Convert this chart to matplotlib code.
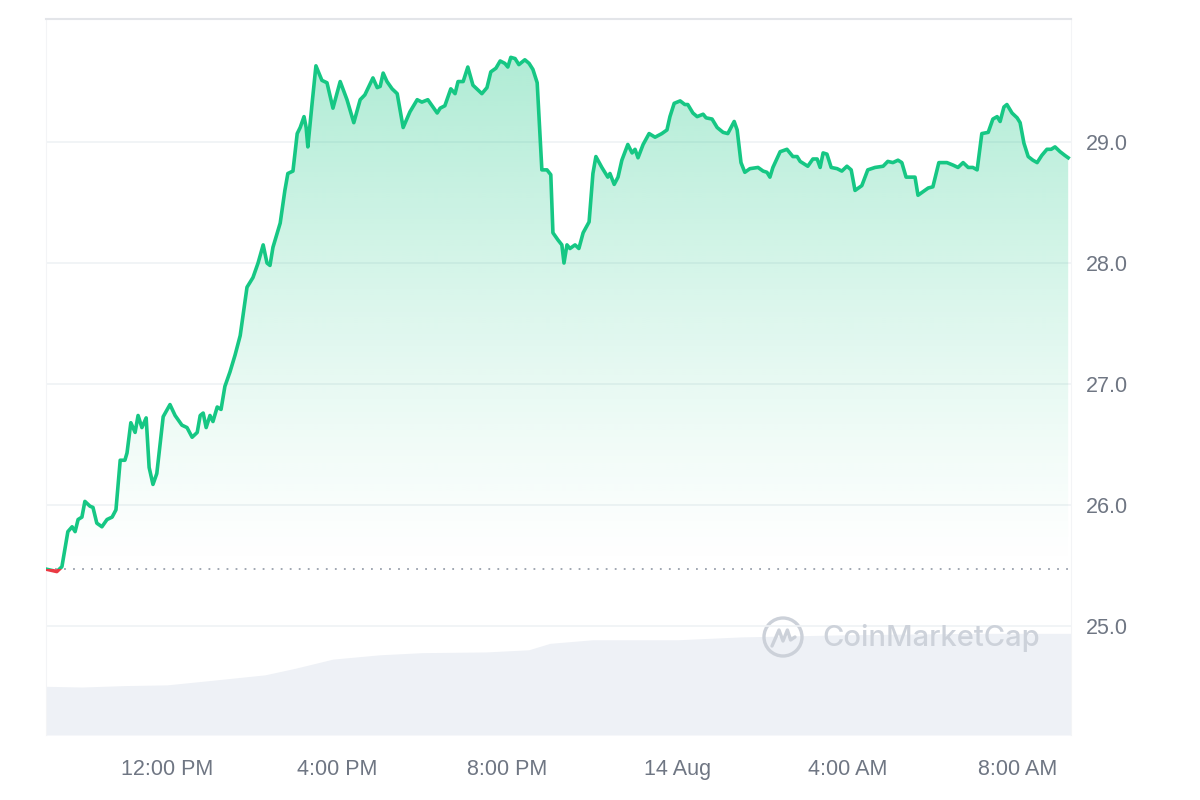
#!/usr/bin/env python3
"""24h price chart in the CoinMarketCap style (price line, gradient area, volume)."""
from __future__ import annotations

import numpy as np
import matplotlib

matplotlib.use("Agg")
import matplotlib.pyplot as plt
from matplotlib.patches import Circle, Rectangle

OUT_PNG = "out.png"

# time in hours from 13 Aug 00:00, price in USD
TIME_H = [
    9.16, 9.41, 9.53, 9.67, 9.77, 9.84, 9.91, 10.00, 10.07, 10.19, 10.26, 10.35,
    10.47, 10.59, 10.71, 10.80, 10.90, 11.01, 11.06, 11.15, 11.25, 11.32, 11.41,
    11.51, 11.58, 11.67, 11.76, 11.91, 12.07, 12.19, 12.35, 12.47, 12.59, 12.71,
    12.78, 12.85, 12.92, 13.01, 13.08, 13.18, 13.27, 13.36, 13.48, 13.60, 13.72,
    13.88, 14.02, 14.14, 14.26, 14.35, 14.42, 14.49, 14.66, 14.77, 14.84, 14.96,
    15.06, 15.13, 15.22, 15.27, 15.31, 15.41, 15.50, 15.64, 15.76, 15.90, 16.07,
    16.23, 16.39, 16.54, 16.65, 16.84, 16.94, 17.01, 17.08, 17.17, 17.29, 17.41,
    17.55, 17.71, 17.88, 17.99, 18.13, 18.35, 18.42, 18.53, 18.67, 18.77, 18.84,
    18.96, 19.07, 19.19, 19.40, 19.52, 19.61, 19.73, 19.83, 19.94, 20.01, 20.08,
    20.18, 20.27, 20.41, 20.51, 20.60, 20.70, 20.81, 20.93, 21.02, 21.07, 21.19,
    21.28, 21.33, 21.40, 21.47, 21.59, 21.68, 21.78, 21.92, 22.01, 22.08, 22.22,
    22.36, 22.41, 22.51, 22.60, 22.69, 22.83, 22.93, 23.00, 23.07, 23.19, 23.33,
    23.47, 23.63, 23.75, 23.82, 23.92, 24.06, 24.17, 24.24, 24.36, 24.46, 24.60,
    24.67, 24.81, 24.93, 25.07, 25.18, 25.33, 25.40, 25.49, 25.58, 25.70, 25.89,
    26.01, 26.10, 26.17, 26.24, 26.41, 26.57, 26.71, 26.81, 26.88, 27.06, 27.18,
    27.28, 27.35, 27.42, 27.51, 27.61, 27.75, 27.86, 27.98, 28.08, 28.17, 28.33,
    28.47, 28.64, 28.83, 28.94, 29.06, 29.18, 29.27, 29.37, 29.46, 29.58, 29.65,
    29.77, 29.89, 30.00, 30.14, 30.33, 30.47, 30.59, 30.71, 30.83, 30.94, 31.04,
    31.15, 31.30, 31.41, 31.51, 31.58, 31.67, 31.74, 31.86, 31.98, 32.05, 32.14,
    32.24, 32.35, 32.45, 32.56, 32.68, 32.78, 32.87, 32.99, 33.10, 33.18,
]
PRICE = [
    25.47, 25.45, 25.49, 25.78, 25.82, 25.78, 25.88, 25.90, 26.03, 25.99, 25.98, 25.85,
    25.82, 25.88, 25.90, 25.96, 26.37, 26.37, 26.43, 26.68, 26.60, 26.74, 26.64,
    26.72, 26.31, 26.17, 26.26, 26.73, 26.83, 26.74, 26.66, 26.64, 26.56, 26.60,
    26.74, 26.76, 26.64, 26.74, 26.69, 26.81, 26.79, 26.98, 27.10, 27.24, 27.40,
    27.80, 27.88, 28.00, 28.15, 28.00, 27.98, 28.13, 28.33, 28.60, 28.74, 28.76,
    29.07, 29.12, 29.21, 29.12, 28.96, 29.32, 29.63, 29.51, 29.49, 29.28, 29.50,
    29.35, 29.16, 29.35, 29.39, 29.53, 29.45, 29.46, 29.57, 29.50, 29.44, 29.40,
    29.12, 29.25, 29.35, 29.33, 29.35, 29.24, 29.28, 29.30, 29.44, 29.40, 29.50,
    29.50, 29.62, 29.47, 29.40, 29.45, 29.58, 29.61, 29.67, 29.65, 29.62, 29.70,
    29.69, 29.64, 29.68, 29.65, 29.60, 29.49, 28.77, 28.77, 28.73, 28.25, 28.19,
    28.15, 28.00, 28.15, 28.12, 28.15, 28.12, 28.25, 28.34, 28.74, 28.88, 28.79,
    28.71, 28.74, 28.65, 28.71, 28.85, 28.98, 28.91, 28.94, 28.87, 28.98, 29.07,
    29.04, 29.07, 29.10, 29.21, 29.32, 29.34, 29.31, 29.31, 29.24, 29.21, 29.23,
    29.20, 29.19, 29.12, 29.08, 29.07, 29.17, 29.10, 28.83, 28.75, 28.78, 28.79,
    28.76, 28.75, 28.71, 28.79, 28.92, 28.94, 28.88, 28.88, 28.84, 28.80, 28.86,
    28.86, 28.79, 28.91, 28.90, 28.79, 28.78, 28.76, 28.80, 28.77, 28.60, 28.64,
    28.77, 28.79, 28.80, 28.84, 28.83, 28.85, 28.83, 28.71, 28.71, 28.71, 28.56,
    28.59, 28.62, 28.63, 28.83, 28.83, 28.81, 28.79, 28.83, 28.79, 28.79, 28.77,
    29.07, 29.08, 29.19, 29.21, 29.17, 29.29, 29.31, 29.24, 29.20, 29.16, 28.99,
    28.88, 28.85, 28.83, 28.89, 28.94, 28.94, 28.96, 28.92, 28.89, 28.87,
]
OPEN_PRICE = 25.47

# rolling volume (relative units) under the price chart
VOL_TIME_H = [9.16, 10.0, 11.0, 12.0, 13.0, 14.3, 15.0, 15.9, 17.0, 18.0, 19.5, 20.5,
              21.0, 22.0, 24.0, 25.5, 28.0, 31.0, 33.25]
VOLUME = [6.8, 6.7, 6.9, 7.0, 7.6, 8.4, 9.3, 10.6, 11.2, 11.5, 11.6, 11.9,
          12.8, 13.3, 13.3, 13.7, 14.0, 14.2, 14.2]

X_TICKS = [12, 16, 20, 24, 28, 32]
X_LABELS = ["12:00 PM", "4:00 PM", "8:00 PM", "14 Aug", "4:00 AM", "8:00 AM"]
Y_TICKS = [25.0, 26.0, 27.0, 28.0, 29.0]

GREEN = "#16c784"
RED = "#ea3943"
GRID = "#eff2f5"
LABEL = "#6f7683"
FONT = ["Liberation Sans", "DejaVu Sans"]


def plot_figure() -> None:
    plt.rcParams["font.family"] = FONT
    t = np.array(TIME_H)
    p = np.array(PRICE)

    fig = plt.figure(figsize=(12, 8), dpi=100)
    ax = fig.add_axes([46 / 1200, 65 / 800, 1025 / 1200, 716 / 800])
    x0, x1 = 9.156, 33.246
    y0, y1 = 24.099, 30.017

    # volume on its own scale, drawn first
    axv = ax.twinx()
    axv.set_zorder(0)
    ax.set_zorder(1)
    ax.patch.set_visible(False)
    axv.fill_between(VOL_TIME_H, VOLUME, 0, color="#eef1f6", lw=0)
    axv.set_ylim(0, 100)
    axv.set_yticks([])
    for s in axv.spines.values():
        s.set_visible(False)

    # gradient area between price and the opening price
    poly = ax.fill_between(t, np.maximum(p, OPEN_PRICE), OPEN_PRICE, color="none", lw=0)
    grad = np.linspace(0.0, 1.0, 256)
    rgba = np.zeros((256, 1, 4))
    rgba[:, 0, 0] = 22 / 255
    rgba[:, 0, 1] = 199 / 255
    rgba[:, 0, 2] = 132 / 255
    rgba[:, 0, 3] = 0.34 * grad ** 1.2
    img = ax.imshow(rgba, aspect="auto", origin="lower",
                    extent=[x0, x1, OPEN_PRICE, p.max()], zorder=1, interpolation="bilinear")
    img.set_clip_path(poly.get_paths()[0], transform=ax.transData)

    # dotted opening-price line
    ax.axhline(OPEN_PRICE, color="#9aa1ad", lw=1.3, ls=(0, (1, 4)), zorder=2)

    # price line: green above the open, red below
    up, = ax.plot(t, p, color=GREEN, lw=2.6, zorder=4, solid_joinstyle="round")
    dn, = ax.plot(t, p, color=RED, lw=2.6, zorder=4, solid_joinstyle="round")
    up.set_clip_path(Rectangle((x0, OPEN_PRICE), x1 - x0, y1 - OPEN_PRICE, transform=ax.transData))
    dn.set_clip_path(Rectangle((x0, y0), x1 - x0, OPEN_PRICE - y0, transform=ax.transData))

    ax.set_xlim(x0, x1)
    ax.set_ylim(y0, y1)
    ax.set_xticks(X_TICKS)
    ax.set_xticklabels(X_LABELS)
    ax.set_yticks(Y_TICKS)
    ax.set_yticklabels([f"{v:.1f}" for v in Y_TICKS])
    ax.yaxis.tick_right()
    ax.tick_params(axis="both", length=0, labelsize=15.5, labelcolor=LABEL)
    ax.tick_params(axis="x", pad=17)
    ax.tick_params(axis="y", pad=11)
    ax.grid(True, axis="y", color=GRID, lw=1.2, zorder=0)
    ax.set_axisbelow(True)

    ax.spines["top"].set_color("#e3e5e9")
    ax.spines["top"].set_linewidth(1.5)
    ax.spines["left"].set_color("#f3f4f6")
    ax.spines["right"].set_color("#f3f4f6")
    ax.spines["bottom"].set_visible(False)

    # CoinMarketCap watermark
    logo = fig.add_axes([761 / 1200, 141 / 800, 44 / 1200, 44 / 800])
    logo.set_xlim(-1.1, 1.1)
    logo.set_ylim(-1.1, 1.1)
    logo.set_aspect("equal")
    logo.axis("off")
    logo.add_patch(Circle((0, 0), 0.95, fill=False, ec="#ccd1d9", lw=2.4))
    logo.plot([-0.55, -0.2, 0.0, 0.22, 0.38, 0.6], [-0.45, 0.35, -0.2, 0.35, -0.15, 0.0],
              color="#ccd1d9", lw=2.4, solid_joinstyle="round", solid_capstyle="round")
    fig.text(822 / 1200, 1 - 638 / 800, "CoinMarketCap", fontsize=21, color="#cdd2da",
             family=["Inter", "DejaVu Sans"], fontweight="medium", va="center", ha="left")

    fig.savefig(OUT_PNG, dpi=100, facecolor="white")
    plt.close(fig)


def main() -> None:
    plot_figure()


if __name__ == "__main__":
    main()
